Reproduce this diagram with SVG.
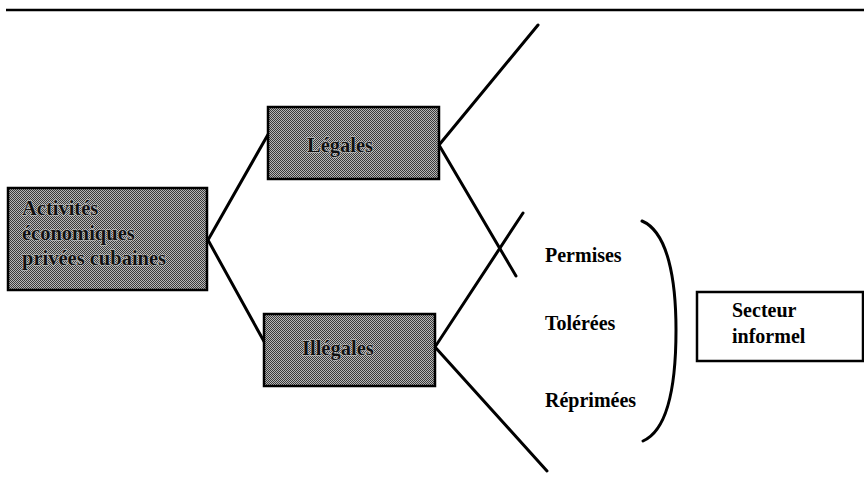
<svg xmlns="http://www.w3.org/2000/svg" width="864" height="496" viewBox="0 0 864 496">
<defs>
<pattern id="dither" width="2" height="2" patternUnits="userSpaceOnUse">
<rect width="2" height="2" fill="#b8b8b8"/>
<rect x="0" y="0" width="1" height="1" fill="#3a3a3a"/>
<rect x="1" y="1" width="1" height="1" fill="#3a3a3a"/>
</pattern>
</defs>
<style>
.box{fill:url(#dither);stroke:#000;stroke-width:2.5}
.wbox{fill:#fff;stroke:#000;stroke-width:2.5}
.t{font-family:"Liberation Serif","Times New Roman",serif;font-weight:bold;font-size:20px;fill:#000}
.tb{font-family:"Liberation Serif","Times New Roman",serif;font-weight:bold;font-size:20.5px;fill:#111;stroke:#cfcfcf;stroke-width:1;paint-order:stroke}
.ln{stroke:#000;stroke-width:3;fill:none;stroke-linecap:round}
</style>
<rect width="864" height="496" fill="#fff"/>
<line x1="6" y1="10" x2="864" y2="10" stroke="#000" stroke-width="2.5"/>
<g id="connectors">
<path class="ln" d="M208 240 L270 131 M208 240 L266 345"/>
<path class="ln" d="M439 145 L538 25 M439 145 L516 276"/>
<path class="ln" d="M435 347 L523 213 M435 347 L547 471"/>
</g>
<g id="activites">
<rect class="box" x="8" y="188" width="199" height="102"/>
<text class="tb" x="22" y="215">Activités</text>
<text class="tb" x="22" y="240">économiques</text>
<text class="tb" x="22" y="265">privées cubaines</text>
</g>
<g id="legales">
<rect class="box" x="268" y="107" width="171" height="72"/>
<text class="tb" x="307" y="152">Légales</text>
</g>
<g id="illegales">
<rect class="box" x="264" y="314" width="171" height="72"/>
<text class="tb" x="302" y="355">Illégales</text>
</g>
<g id="categories">
<text class="t" x="545" y="262">Permises</text>
<text class="t" x="545" y="330">Tolérées</text>
<text class="t" x="545" y="407">Réprimées</text>
</g>
<g id="bracket">
<path class="ln" d="M642 221 C668 232 676 280 676 330 C676 385 668 430 643 441"/>
</g>
<g id="secteur">
<rect class="wbox" x="697" y="292" width="166" height="69"/>
<text class="t" x="732" y="317">Secteur</text>
<text class="t" x="732" y="343">informel</text>
</g>
</svg>
